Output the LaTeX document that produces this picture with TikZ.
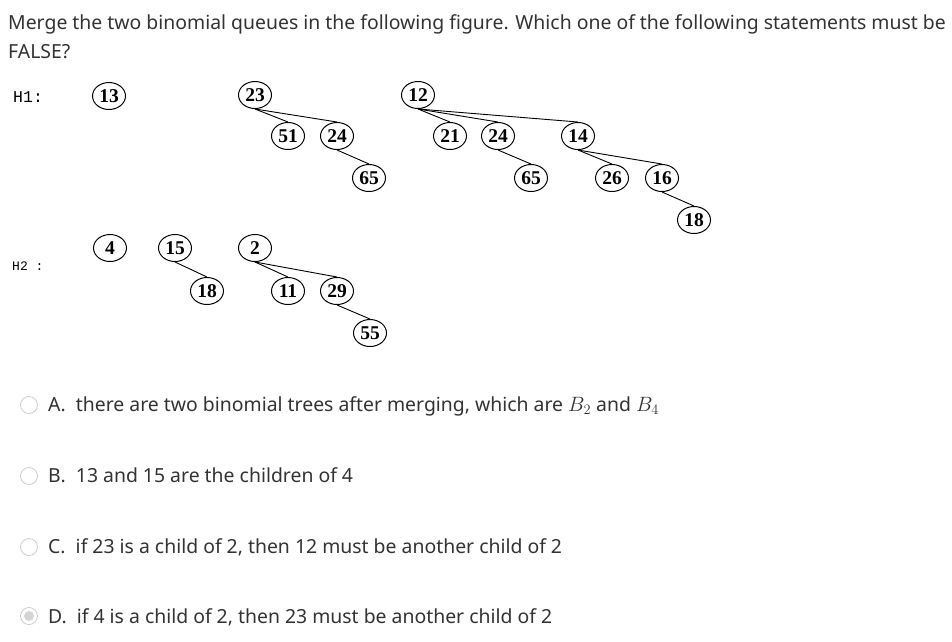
\documentclass[tikz,border=0pt]{standalone}
\usepackage{fontspec}
\setmainfont{Noto Sans}
\newfontfamily\treefont{Liberation Serif}
\newfontfamily\heapfont{Liberation Mono}
\usetikzlibrary{shapes.geometric,positioning}

\definecolor{txtgray}{HTML}{333333}
\definecolor{radioline}{HTML}{CCCCCC}
\definecolor{radiodot}{HTML}{D4D4D4}

\tikzset{
  key/.style={ellipse, draw, line width=1pt, inner sep=0pt,
    minimum width=33pt, minimum height=27pt,
    font=\treefont\bfseries\fontsize{19.5}{19.5}\selectfont},
  link/.style={line width=0.9pt},
  heap/.style={font=\heapfont\fontsize{15}{15}\selectfont, anchor=west, inner sep=0pt},
  stem/.style={font=\fontsize{19.4}{29}\selectfont, text=txtgray, anchor=base west, inner sep=0pt},
  choice/.style={font=\fontsize{19.4}{22}\selectfont, text=txtgray, anchor=base west, inner sep=0pt},
  radio/.style={circle, draw=radioline, line width=0.8pt, minimum size=17pt, inner sep=0pt},
}

\begin{document}
\begin{tikzpicture}[x=1pt, y=-1pt]
  \useasboundingbox (0,0) rectangle (952,641);

  % 1. 题干
  \node[stem] (q1) at (8,29) {Merge the two binomial queues in the following figure. Which one of the following statements must be};
  \node[stem] (q2) at (8,58) {FALSE?};

  % 2. H1 的三棵树
  \node[heap, font=\heapfont\fontsize{16.5}{16.5}\selectfont] (h1) at (13,97) {H1:};
  \node[key] (a13) at (109,96) {13};

  \node[key] (a23) at (255,95) {23};
  \node[key] (a51) at (288,136) {51};
  \node[key] (a24) at (337,136) {24};
  \node[key] (a65) at (369,178) {65};

  \node[key] (b12) at (418,95) {12};
  \node[key] (b21) at (450,136) {21};
  \node[key] (b24) at (498,136) {24};
  \node[key] (b65) at (531,178) {65};
  \node[key] (b14) at (578,136) {14};
  \node[key] (b26) at (612,178) {26};
  \node[key] (b16) at (662,178) {16};
  \node[key] (b18) at (694,220) {18};

  % 3. H2 的三棵树
  \node[heap, font=\heapfont\fontsize{13}{13}\selectfont] (h2) at (12,266) {H2 :};
  \node[key] (c4) at (110,248) {4};
  \node[key] (c15) at (175,248) {15};
  \node[key] (c18) at (207,291) {18};
  \node[key] (c2) at (255,248) {2};
  \node[key] (c11) at (288,291) {11};
  \node[key] (c29) at (337,291) {29};
  \node[key] (c55) at (370,333) {55};

  % 父子连线
  \draw[link] (a23.south) -- (a51.north);
  \draw[link] (a23.south) -- (a24.north);
  \draw[link] (a24.south) -- (a65.north);
  \draw[link] (b12.south) -- (b21.north);
  \draw[link] (b12.south) -- (b24.north);
  \draw[link] (b12.south) -- (b14.north);
  \draw[link] (b24.south) -- (b65.north);
  \draw[link] (b14.south) -- (b26.north);
  \draw[link] (b14.south) -- (b16.north);
  \draw[link] (b16.south) -- (b18.north);
  \draw[link] (c15.south) -- (c18.north);
  \draw[link] (c2.south) -- (c11.north);
  \draw[link] (c2.south) -- (c29.north);
  \draw[link] (c29.south) -- (c55.north);

  % 4. 选项
  \node[radio] (ra) at (29,405) {};
  \node[choice] (oa) at (48,411) {A.\ \ there are two binomial trees after merging, which are $B_2$ and $B_4$};
  \node[radio] (rb) at (29,476) {};
  \node[choice] (ob) at (48,482) {B.\ \ 13 and 15 are the children of 4};
  \node[radio] (rc) at (29,547) {};
  \node[choice] (oc) at (48,553) {C.\ \ if 23 is a child of 2, then 12 must be another child of 2};
  \node[radio] (rd) at (29,616) {};
  \fill[radiodot] (rd) circle (5pt);
  \node[choice] (od) at (48,623) {D.\ \ if 4 is a child of 2, then 23 must be another child of 2};
\end{tikzpicture}
\end{document}
